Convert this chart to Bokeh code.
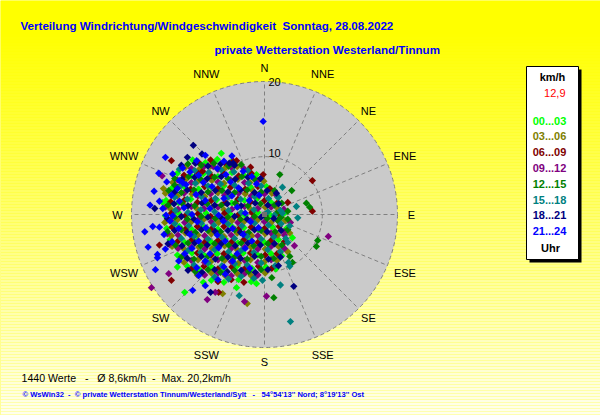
import math
from bokeh.plotting import figure
from bokeh.models import Range1d
from bokeh.embed import file_html
from bokeh.resources import INLINE
from bokeh.core.properties import value

NB = "\u00a0"
# ---------------- texts ----------------
TITLE1 = "Verteilung Windrichtung/Windgeschwindigkeit" + NB + " Sonntag, 28.08.2022"
TITLE2 = "private Wetterstation Westerland/Tinnum"
FOOT1 = "1440 Werte" + NB * 3 + "-" + NB * 3 + "\u00d8 8,6km/h" + NB * 2 + "-" + NB * 2 + "Max. 20,2km/h"
FOOT2 = ("\u00a9 WsWin32" + NB * 2 + "-" + NB * 2 + "\u00a9 private Wetterstation Tinnum/Westerland/Sylt"
         + NB * 3 + "-" + NB * 3 + "54\u00b054'13'' Nord; 8\u00b019'13'' Ost")
DIRS = ["N", "NNE", "NE", "ENE", "E", "ESE", "SE", "SSE",
        "S", "SSW", "SW", "WSW", "W", "WNW", "NW", "NNW"]
RING_LABELS = ["10", "20"]
UNIT_LABEL = "km/h"
CURRENT_SPEED = "12,9"
HOUR_LABEL = "Uhr"
HOUR_BINS = ["00...03", "03...06", "06...09", "09...12",
             "12...15", "15...18", "18...21", "21...24"]
HOUR_COLORS = ["#00FF00", "#808000", "#800000", "#800080",
               "#008000", "#008080", "#000080", "#0000FF"]

# wind vectors (east, north components, km/h as drawn) per 3-hour bin
P00 = [(-15.3,1.8),(-6.5,9.2),(-5.6,7.4),(-5.0,7.1),(4.2,-3.5),(-4.2,-11.0),(-1.2,-10.4),(-9.2,-10.2),(-12.0,-11.7),(-13.1,-7.9),
       (-10.8,8.2),(-8.9,7.8),(-7.1,8.3),(-5.0,7.9),
       (-13.1,6.2),(-11.0,5.8),(-9.2,6.1),(-7.0,5.7),(-4.9,6.3),(-3.1,5.9),(-1.2,6.0),
       (-14.0,3.9),(-12.1,4.2),(-9.9,3.8),(-8.0,4.1),(-6.1,4.3),(-3.8,3.7),(-2.0,4.0),(0.3,4.2),
       (-14.8,2.1),(-12.9,1.8),(-11.1,2.3),(-9.0,1.9),(-7.2,2.2),(-4.9,1.7),(-3.0,2.1),(-1.1,2.4),(1.0,1.8),
       (-14.9,-0.2),(-13.0,0.3),(-11.0,-0.1),(-8.8,0.2),(-7.1,-0.3),(-5.2,0.1),(-2.9,-0.2),(-1.0,0.3),(0.9,-0.1),(3.0,0.2),
       (-14.7,-2.1),(-12.8,-1.8),(-10.9,-2.3),(-9.1,-1.9),(-7.0,-2.2),(-5.0,-1.7),(-3.1,-2.0),(-0.9,-2.3),(1.2,-1.9),(3.3,-2.1),
       (-14.2,-3.8),(-12.0,-4.2),(-10.1,-3.9),(-8.1,-4.1),(-5.9,-3.7),(-4.0,-4.3),(-2.1,-3.9),(0.0,-4.2),(2.1,-3.8),
       (-13.1,-6.1),(-10.9,-5.8),(-9.0,-6.2),(-7.1,-5.9),(-5.0,-6.3),(-3.2,-5.8),(-1.0,-6.1),(1.0,-5.9),(2.6,-6.2),
       (-11.6,-7.8),(-9.9,-8.2),(-8.0,-7.9),(-6.0,-8.3),(-4.1,-7.7),(-1.9,-8.1),(0.2,-7.9),(1.7,-8.2),
       (-8.0,-9.9),(-6.1,-10.2),(-3.9,-9.8),(-2.0,-10.1)]
P03 = [(-15.2,3.9),(-8.3,6.3),(-1.7,3.5),(3.5,-5.6),(-2.6,-13.4),(-6.3,-11.9),
       (-11.9,7.1),(-9.8,6.8),(-8.1,7.3),(-6.0,6.9),(-4.1,7.2),
       (-13.8,4.8),(-11.9,5.2),(-10.1,4.9),(-7.9,5.1),(-6.1,4.7),(-4.0,5.3),(-2.2,4.8),(-0.1,5.0),
       (-14.9,3.2),(-13.1,2.8),(-10.9,3.1),(-9.0,2.7),(-7.0,3.3),(-5.1,2.9),(-2.9,3.1),(-0.9,2.8),(1.1,3.2),
       (-14.1,0.8),(-12.0,1.2),(-10.2,0.9),(-7.9,1.1),(-6.1,0.7),(-3.9,1.2),(-2.1,0.8),(0.1,1.1),(2.0,0.9),
       (-15.0,-1.2),(-13.1,-0.8),(-11.0,-1.1),(-9.1,-0.7),(-6.9,-1.2),(-4.9,-0.9),(-3.1,-1.1),(-1.0,-0.8),(1.0,-1.2),(3.1,-0.9),
       (-14.0,-3.2),(-11.9,-2.8),(-10.0,-3.1),(-8.0,-2.9),(-6.1,-3.3),(-4.1,-2.8),(-1.9,-3.2),(0.1,-2.9),(2.0,-3.1),(3.8,-2.8),
       (-13.9,-4.8),(-12.1,-5.2),(-9.9,-4.9),(-7.9,-5.1),(-6.0,-4.7),(-4.1,-5.3),(-2.0,-4.9),(0.1,-5.2),(2.1,-4.8),
       (-12.1,-7.2),(-10.0,-6.8),(-8.1,-7.1),(-6.0,-6.9),(-3.9,-7.3),(-2.1,-6.8),(0.0,-7.1),(1.9,-6.9),
       (-10.1,-9.1),(-8.0,-8.8),(-5.9,-9.2),(-4.1,-8.9),(-2.0,-9.2),(0.1,-8.8)]
P06 = [(-14.0,8.1),(-9.3,6.5),(-4.7,8.0),(-2.1,7.1),(-0.2,6.0),(7.2,5.1),(3.5,1.8),(7.2,0.5),(2.3,-5.7),(-6.9,-11.7),(-14.0,-9.9),(-15.8,-4.6),
       (-10.0,7.9),(-8.1,8.2),(-6.0,7.8),(-4.2,8.1),
       (-12.1,5.9),(-10.0,6.2),(-8.0,5.8),(-6.1,6.1),(-3.9,5.8),(-2.0,6.2),
       (-13.0,4.1),(-11.1,3.8),(-9.0,4.2),(-7.0,3.9),(-5.1,4.1),(-2.9,3.8),(-1.0,4.2),(0.8,3.9),
       (-14.1,1.9),(-12.0,2.2),(-10.1,1.8),(-8.0,2.1),(-5.9,1.8),(-4.0,2.3),(-2.1,1.9),(0.0,2.1),(2.0,1.8),
       (-14.0,0.2),(-11.9,-0.2),(-10.0,0.1),(-8.1,-0.3),(-6.0,0.2),(-4.0,-0.1),(-1.9,0.3),(0.1,-0.2),(2.1,0.1),
       (-13.9,-1.9),(-11.9,-2.2),(-10.1,-1.8),(-7.9,-2.1),(-6.1,-1.8),(-3.9,-2.2),(-2.0,-1.9),(0.0,-2.1),(2.2,-1.8),
       (-13.1,-4.1),(-10.9,-3.8),(-9.0,-4.2),(-7.0,-3.9),(-4.9,-4.1),(-3.1,-3.8),(-1.0,-4.2),(1.0,-3.9),(3.0,-4.1),
       (-12.0,-6.2),(-10.1,-5.8),(-8.0,-6.1),(-6.1,-5.9),(-3.9,-6.2),(-2.1,-5.8),(0.1,-6.1),(1.9,-5.9),
       (-10.9,-8.1),(-9.1,-7.8),(-7.0,-8.2),(-4.9,-7.9),(-3.0,-8.2),(-0.9,-7.8),(1.1,-8.1),
       (-7.0,-10.1),(-5.0,-9.8),(-3.1,-10.2)]
P09 = [(-7.7,7.2),(9.6,-3.3),(3.0,-2.6),(4.5,-4.7),(1.4,-3.2),(0.3,-12.3),(-3.0,-13.1),(-8.6,-12.8),(-17.0,-11.0),(-14.4,-8.9),
       (-14.6,-2.9),(-14.3,-4.5),(-1.5,-9.5),(-7.4,-11.7),(-15.4,5.8),
       (-11.0,6.9),(-9.1,7.2),(-7.0,6.8),(-5.0,7.1),(-3.1,6.9),
       (-13.1,5.2),(-11.0,4.8),(-8.9,5.1),(-7.0,4.9),(-5.1,5.2),(-3.0,4.8),(-1.0,5.1),
       (-14.0,2.9),(-12.1,3.2),(-10.0,2.8),(-8.1,3.1),(-6.0,2.9),(-3.9,3.2),(-2.0,2.8),(0.0,3.1),(1.8,2.9),
       (-14.9,1.1),(-13.0,0.8),(-11.0,1.2),(-9.1,0.9),(-7.0,1.1),(-4.9,0.8),(-3.0,1.2),(-1.0,0.9),(1.0,1.1),(2.9,0.8),
       (-14.1,-0.9),(-12.0,-1.2),(-10.0,-0.8),(-8.0,-1.1),(-6.0,-0.9),(-4.0,-1.2),(-2.0,-0.8),(0.0,-1.1),(2.0,-0.9),(3.9,-1.2),
       (-13.0,-3.1),(-11.0,-2.9),(-9.0,-3.2),(-7.1,-2.8),(-5.0,-3.1),(-3.0,-2.9),(-1.0,-3.2),(1.0,-2.8),(3.0,-3.1),
       (-13.0,-5.1),(-11.0,-4.9),(-9.0,-5.2),(-7.0,-4.8),(-5.0,-5.1),(-3.0,-4.9),(-1.0,-5.2),(1.0,-4.8),(3.0,-5.1),
       (-11.0,-6.9),(-9.0,-7.2),(-7.0,-6.8),(-5.0,-7.1),(-3.0,-6.9),(-1.0,-7.2),(1.0,-6.8),
       (-9.0,-9.1),(-7.0,-8.8),(-5.0,-9.2),(-3.0,-8.9),(-1.0,-9.1)]
P12 = [(2.3,6.0),(4.1,3.6),(6.3,1.7),(6.8,1.1),(3.5,0.5),(2.0,-0.9),(1.8,0.2),(8.0,-3.9),(7.8,-4.8),(3.8,-6.3),(4.2,-7.2),(1.1,-9.5),(1.4,-12.5),(-13.5,4.4),
       (-11.5,7.6),(-9.5,7.4),(-7.6,7.7),(-5.4,7.3),(-3.5,7.5),
       (-13.5,5.4),(-11.4,5.7),(-9.6,5.3),(-7.5,5.6),(-5.5,5.4),(-3.4,5.7),(-1.5,5.3),
       (-14.4,3.6),(-12.5,3.3),(-10.6,3.7),(-8.5,3.4),(-6.4,3.6),(-4.5,3.3),(-2.6,3.7),(-0.5,3.4),(1.5,3.6),
       (-14.5,1.4),(-12.4,1.7),(-10.5,1.3),(-8.6,1.6),(-6.5,1.4),(-4.4,1.7),(-2.5,1.3),(-0.6,1.6),(1.5,1.4),(2.6,1.7),
       (-13.5,-0.4),(-11.6,-0.7),(-9.5,-0.3),(-7.4,-0.6),(-5.5,-0.4),(-3.6,-0.7),(-1.5,-0.3),(0.4,-0.6),(2.5,-0.4),(3.5,-0.7),
       (-14.6,-2.6),(-12.5,-2.3),(-10.4,-2.7),(-8.5,-2.4),(-6.6,-2.6),(-4.5,-2.3),(-2.4,-2.7),(-0.5,-2.4),(1.6,-2.6),(3.5,-2.3),
       (-13.4,-4.6),(-11.5,-4.3),(-9.6,-4.7),(-7.5,-4.4),(-5.4,-4.6),(-3.5,-4.3),(-1.6,-4.7),(0.5,-4.4),(2.6,-4.6),
       (-12.5,-6.4),(-10.6,-6.7),(-8.5,-6.3),(-6.4,-6.6),(-4.5,-6.4),(-2.6,-6.7),(-0.5,-6.3),(1.4,-6.6),
       (-10.4,-8.6),(-8.5,-8.3),(-6.6,-8.7),(-4.5,-8.4),(-2.4,-8.6),(-0.5,-8.3)]
P15 = [(-12.8,6.8),(2.7,4.1),(4.8,1.2),(2.1,2.6),(2.7,0.2),(1.5,-0.1),(3.5,-4.2),(3.8,-7.8),(3.6,-7.2),(-0.3,-9.9),(3.9,-16.1),(5.0,-0.5),(-3.8,-12.2),(2.4,-10.6),
       (-10.5,6.6),(-8.4,6.3),(-6.5,6.7),(-4.6,6.4),(-2.5,6.6),
       (-12.5,4.4),(-10.4,4.7),(-8.5,4.3),(-6.6,4.6),(-4.5,4.4),(-2.4,4.7),(-0.5,4.3),
       (-13.5,2.6),(-11.6,2.3),(-9.5,2.7),(-7.4,2.4),(-5.5,2.6),(-3.6,2.3),(-1.5,2.7),(0.6,2.4),(2.0,2.6),
       (-13.4,0.6),(-11.5,0.3),(-9.6,0.7),(-7.5,0.4),(-5.4,0.6),(-3.5,0.3),(-1.6,0.7),(0.5,0.4),(2.4,0.6),
       (-13.5,-1.4),(-11.4,-1.7),(-9.5,-1.3),(-7.6,-1.6),(-5.5,-1.4),(-3.4,-1.7),(-1.5,-1.3),(0.6,-1.6),(2.5,-1.4),(3.8,-1.7),
       (-12.5,-3.6),(-10.6,-3.3),(-8.5,-3.7),(-6.4,-3.4),(-4.5,-3.6),(-2.6,-3.3),(-0.5,-3.7),(1.4,-3.4),(3.2,-3.6),
       (-11.5,-5.4),(-9.6,-5.7),(-7.5,-5.3),(-5.4,-5.6),(-3.5,-5.4),(-1.6,-5.7),(0.5,-5.3),(2.4,-5.6),
       (-10.6,-7.6),(-8.5,-7.3),(-6.4,-7.7),(-4.5,-7.4),(-2.6,-7.6),(-0.5,-7.3),(1.6,-7.7),
       (-7.5,-9.4),(-5.4,-9.7),(-3.5,-9.3),(-1.6,-9.6)]
P18 = [(-10.7,10.4),(-4.7,7.7),(-5.3,7.7),(1.8,3.2),(2.1,-7.7),(4.4,-10.8),(-8.1,-11.7),(-16.5,0.9),(-11.6,8.6),(-9.4,9.1),
       (-12.5,7.4),(-10.4,7.7),(-8.5,7.3),(-6.6,7.6),(-4.5,7.4),
       (-12.4,5.3),(-10.5,5.6),(-8.6,5.4),(-6.5,5.7),(-4.4,5.3),(-2.5,5.6),(-0.6,5.4),
       (-13.5,3.4),(-11.6,3.7),(-9.5,3.3),(-7.4,3.6),(-5.5,3.4),(-3.6,3.7),(-1.5,3.3),(0.4,3.6),
       (-13.6,1.6),(-11.5,1.3),(-9.4,1.7),(-7.5,1.4),(-5.6,1.6),(-3.5,1.3),(-1.4,1.7),(0.5,1.4),(2.1,1.6),
       (-14.6,-0.6),(-12.5,-0.3),(-10.6,-0.7),(-8.5,-0.4),(-6.4,-0.6),(-4.5,-0.3),(-2.6,-0.7),(-0.5,-0.4),(1.4,-0.6),
       (-13.5,-2.4),(-11.6,-2.7),(-9.5,-2.3),(-7.4,-2.6),(-5.5,-2.4),(-3.6,-2.7),(-1.5,-2.3),(0.4,-2.6),(2.5,-2.4),
       (-14.5,-4.4),(-12.4,-4.7),(-10.5,-4.3),(-8.6,-4.6),(-6.5,-4.4),(-4.4,-4.7),(-2.5,-4.3),(-0.6,-4.6),(1.5,-4.4),
       (-11.6,-6.6),(-9.5,-6.3),(-7.4,-6.7),(-5.5,-6.4),(-3.6,-6.6),(-1.5,-6.3),(0.6,-6.7),(2.4,-6.4),
       (-11.5,-8.4),(-9.4,-8.7),(-7.5,-8.3),(-5.6,-8.6),(-3.5,-8.4),(-1.4,-8.7),(0.5,-8.3)]
P21 = [(-0.2,14.0),(-12.8,5.1),(-12.3,4.8),(-13.8,-0.2),(-16.1,-6.0),(-16.1,-6.5),(-8.9,-10.7),(-10.8,-11.4),(-17.2,1.4),(-16.8,-1.8),
       (-15.9,6.2),(-14.9,8.6),(-18.0,-2.6),(-16.4,-8.3),(-17.5,-4.9),(-16.6,3.5),
       (-10.2,8.1),(-8.9,8.9),(-6.1,8.0),(-4.9,8.8),(-12.3,7.0),
       (-13.8,6.1),(-11.2,6.4),(-9.9,5.9),(-7.1,6.9),(-5.8,6.0),(-3.2,6.5),(-1.9,5.7),
       (-14.7,4.9),(-13.1,3.9),(-11.8,4.5),(-9.2,4.8),(-7.9,4.2),(-5.1,4.9),(-3.9,4.0),(-1.2,4.6),
       (-15.8,2.0),(-14.0,2.9),(-12.8,2.0),(-10.3,3.0),(-8.9,2.1),(-6.1,2.4),(-4.9,2.8),(-2.3,2.1),(-0.8,2.9),
       (-15.3,0.9),(-14.8,-0.1),(-12.1,1.0),(-10.9,0.0),(-8.2,0.9),(-6.9,-0.1),(-4.1,1.1),(-2.9,0.2),
       (-15.8,-1.9),(-14.2,-1.0),(-12.9,-2.1),(-10.1,-1.1),(-8.8,-2.0),(-6.2,-1.0),(-4.8,-2.1),(-2.1,-1.1),(-0.9,-2.0),
       (-15.1,-3.0),(-13.9,-4.1),(-11.2,-3.0),(-9.9,-4.0),(-7.1,-3.1),(-5.9,-4.0),(-3.2,-3.0),(-1.9,-4.0),
       (-14.9,-5.2),(-12.0,-5.9),(-10.9,-5.1),(-8.2,-5.9),(-6.9,-5.0),(-4.1,-5.9),(-2.9,-5.1),
       (-12.9,-7.0),(-10.2,-8.0),(-8.9,-7.0),(-6.1,-7.9),(-4.8,-7.0),(-2.2,-8.1),
       (-9.9,-9.2),(-7.0,-9.8),(-5.9,-9.0)]
SERIES = [P00, P03, P06, P09, P12, P15, P18, P21]

# ---------------- geometry (screen pixels) ----------------
W, H = 600, 415
CX, CY = 264.0, 214.0        # centre of the rose on screen
S = 6.65                     # pixels per km/h
R_OUT = 20.0
RING_R = [8.7, 20.0]         # drawn radius of the rings labelled 10 and 20

FONT = value("Liberation Sans")

p = figure(width=W, height=H,
           x_range=Range1d(-CX / S, (W - CX) / S),
           y_range=Range1d((CY - H) / S, CY / S),
           output_backend="svg", toolbar_location=None, min_border=0,
           x_axis_location=None, y_axis_location=None)
p.grid.visible = False
p.outline_line_color = None
p.background_fill_color = "#FFFF00"
p.border_fill_color = "#FFFF00"
p.extra_x_ranges = {"px": Range1d(0, W)}
p.extra_y_ranges = {"px": Range1d(H, 0)}

# background gradient
tops, bots, cols = [], [], []
for yy in range(0, H, 3):
    b = int(max(0, min(238, (yy - 30) * 0.62)))
    tops.append(yy)
    bots.append(yy + 3)
    cols.append("#FFFF%02X" % b)
p.quad(left=0, right=W, top=tops, bottom=bots, fill_color=cols, line_color=None,
       x_range_name="px", y_range_name="px")

# disc
p.circle(x=[0], y=[0], radius=R_OUT, fill_color="#CACACA", line_color=None)
# radial lines
ang = [math.radians(22.5 * i) for i in range(16)]
p.segment(x0=[0] * 16, y0=[0] * 16, x1=[R_OUT * math.sin(a) for a in ang],
          y1=[R_OUT * math.cos(a) for a in ang], line_color="#808080",
          line_width=1, line_dash="4 3")
# rings
p.circle(x=[0, 0], y=[0, 0], radius=RING_R, fill_color=None, line_color="#808080",
         line_width=1, line_dash="4 3")

# points
for pts, col in zip(SERIES, HOUR_COLORS):
    p.scatter(x=[q[0] for q in pts], y=[q[1] for q in pts], marker="square",
              angle=math.pi / 4, size=5.2, fill_color=col, line_color=None)
# centre mark
p.scatter(x=[0], y=[0], marker="square", size=5, fill_color="#707070", line_color=None)

# ring labels
p.text(x=[0.6, 0.6], y=[9.2, 19.9], text=RING_LABELS,
       text_font=FONT, text_font_size="11px", text_align="left",
       text_baseline="middle", text_color="black")

# compass labels
lr = [147.0 / S if len(d) < 3 else 152.0 / S for d in DIRS]
p.text(x=[r * math.sin(a) for r, a in zip(lr, ang)],
       y=[r * math.cos(a) for r, a in zip(lr, ang)], text=DIRS,
       text_font=FONT, text_font_size="11px", text_align="center",
       text_baseline="middle", text_color="black")

# titles
p.text(x=[20], y=[25], text=[TITLE1], x_range_name="px", y_range_name="px",
       text_font=FONT, text_font_size="11.6px", text_font_style="bold",
       text_color="#0000FF", text_baseline="middle", text_align="left")
p.text(x=[214], y=[49], text=[TITLE2], x_range_name="px", y_range_name="px",
       text_font=FONT, text_font_size="11.6px", text_font_style="bold",
       text_color="#0000FF", text_baseline="middle", text_align="left")
# footers
p.text(x=[21], y=[377], text=[FOOT1], x_range_name="px", y_range_name="px",
       text_font=FONT, text_font_size="10.6px", text_color="black",
       text_baseline="middle", text_align="left")
p.text(x=[22], y=[394], text=[FOOT2], x_range_name="px", y_range_name="px",
       text_font=FONT, text_font_size="7.6px", text_font_style="bold",
       text_color="#0000FF", text_baseline="middle", text_align="left")

# legend box
p.quad(left=[529], right=[581], top=[69], bottom=[262], fill_color="black",
       line_color=None, x_range_name="px", y_range_name="px")
p.quad(left=[526], right=[578], top=[66], bottom=[259], fill_color="white",
       line_color="black", line_width=1, x_range_name="px", y_range_name="px")
p.text(x=[552], y=[76], text=[UNIT_LABEL], x_range_name="px", y_range_name="px",
       text_font=FONT, text_font_size="11px", text_font_style="bold",
       text_color="black", text_baseline="middle", text_align="center")
p.text(x=[565], y=[92], text=[CURRENT_SPEED], x_range_name="px", y_range_name="px",
       text_font=FONT, text_font_size="11px", text_color="#FF0000",
       text_baseline="middle", text_align="right")
p.text(x=[549] * 8, y=[120 + 15.8 * i for i in range(8)], text=HOUR_BINS,
       text_color=HOUR_COLORS, x_range_name="px", y_range_name="px",
       text_font=FONT, text_font_size="11px", text_font_style="bold",
       text_baseline="middle", text_align="center")
p.text(x=[550], y=[247], text=[HOUR_LABEL], x_range_name="px", y_range_name="px",
       text_font=FONT, text_font_size="11px", text_font_style="bold",
       text_color="black", text_baseline="middle", text_align="center")

open("out.html", "w").write(file_html(p, INLINE))
